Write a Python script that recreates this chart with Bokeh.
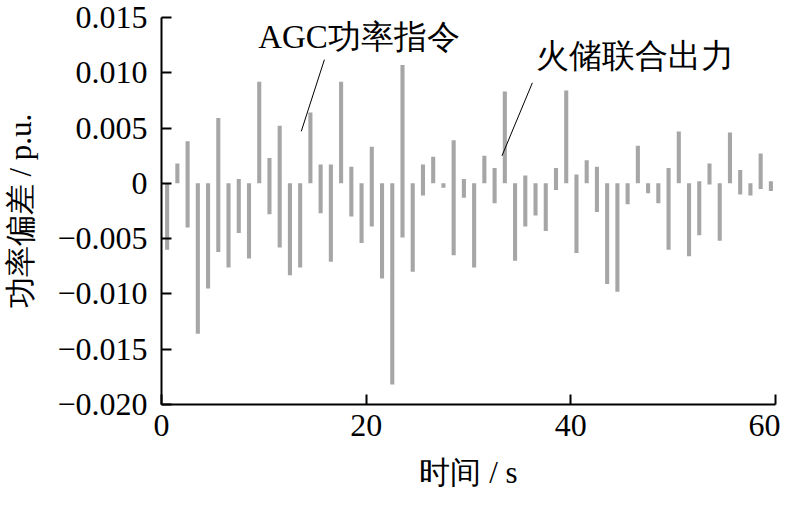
from bokeh.plotting import figure
from bokeh.models import ColumnDataSource, FixedTicker, CustomJSTickFormatter, Label
from bokeh.embed import file_html
from bokeh.resources import INLINE

# ---- data ----
times = [k + 0.55 for k in range(60)]  # one bar per second
bar_top = [0, 0.0018, 0.0038, 0, 0, 0.0059, 0, 0.0004, 0, 0.0092, 0.0023, 0.0052, 0, 0, 0.0064,
           0.0017, 0.0017, 0.0092, 0.0015, 0, 0.0033, 0, 0, 0.0107, 0, 0.0017, 0.0024, 0, 0.0039, 0.0004,
           0, 0.0025, 0.0014, 0.0083, 0, 0.0007, 0, 0, 0.0014, 0.0084, 0.0008, 0.0021, 0.0015, 0,
           0, 0, 0.0034, 0, 0, 0.0014, 0.0047, 0, 0.0002, 0.0018, 0, 0.0046, 0.0012, 0, 0.0027, 0.0002]
bar_bottom = [-0.0060, 0, -0.0040, -0.0136, -0.0095, -0.0062, -0.0076, -0.0045, -0.0068, 0, -0.0028, -0.0058, -0.0083, -0.0076, 0,
              -0.0027, -0.0071, 0, -0.0030, -0.0054, -0.0039, -0.0086, -0.0182, -0.0049, -0.0080, -0.0011, 0, -0.0004, -0.0065, -0.0013,
              -0.0076, 0, -0.0018, 0, -0.0070, -0.0039, -0.0029, -0.0043, -0.0006, 0, -0.0063, 0, -0.0026, -0.0091,
              -0.0098, -0.0019, 0, -0.0009, -0.0018, -0.0060, 0, -0.0066, -0.0047, -0.0001, -0.0052, 0, -0.0010, -0.0011, -0.0005, -0.0007]
x_ticks = [0, 20, 40, 60]
y_ticks = [0.015, 0.010, 0.005, 0, -0.005, -0.010, -0.015, -0.020]
series_names = ["AGC功率指令", "火储联合出力"]
x_title = "时间 / s"
y_title = "功率偏差 / p.u."

SERIF = "Liberation Serif"

p = figure(width=780, height=492, x_range=(0, 60), y_range=(-0.020, 0.015),
           output_backend="svg", toolbar_location=None,
           min_border_left=157, min_border_right=5, min_border_top=17, min_border_bottom=81)
p.outline_line_color = None
p.grid.visible = False
p.background_fill_color = "white"

src = ColumnDataSource(dict(x=times, top=bar_top, bottom=bar_bottom))
p.vbar(x="x", top="top", bottom="bottom", width=0.4, source=src,
       fill_color="#a6a6a6", line_color=None)

# axes
for ax in (p.xaxis[0], p.yaxis[0]):
    ax.axis_line_width = 2
    ax.axis_line_color = "black"
    ax.major_tick_in = 10
    ax.major_tick_out = 0
    ax.major_tick_line_width = 2
    ax.minor_tick_line_color = None
    ax.major_label_text_font = SERIF
    ax.major_label_text_font_size = "32px"
    ax.major_label_text_color = "black"
    ax.axis_label_text_font = SERIF
    ax.axis_label_text_font_size = "31px"
    ax.axis_label_text_font_style = "normal"
    ax.axis_label_text_color = "black"

p.xaxis.ticker = FixedTicker(ticks=x_ticks)
p.yaxis.ticker = FixedTicker(ticks=y_ticks)
p.yaxis.formatter = CustomJSTickFormatter(code="""
    if (Math.abs(tick) < 1e-9) return "0";
    const s = Math.abs(tick).toFixed(3);
    return tick < 0 ? "\u2212" + s : s;
""")
p.xaxis.axis_label = x_title
p.yaxis.axis_label = y_title
p.xaxis.major_label_standoff = 10
p.yaxis.major_label_standoff = 14
p.xaxis.axis_label_standoff = 16
p.yaxis.axis_label_standoff = 16

# annotations with pointer lines
p.add_layout(Label(x=19.3, y=0.01324, text=series_names[0], text_align="center",
                   text_baseline="middle", text_font=SERIF, text_font_size="33px", text_color="black"))
p.add_layout(Label(x=46.26, y=0.01155, text=series_names[1], text_align="center",
                   text_baseline="middle", text_font=SERIF, text_font_size="33px", text_color="black"))
p.segment(x0=[13.66, 33.27], y0=[0.00471, 0.00249], x1=[15.92, 36.24], y1=[0.01119, 0.00909],
          line_color="black", line_width=1)

open("out.html", "w").write(file_html(p, INLINE))
